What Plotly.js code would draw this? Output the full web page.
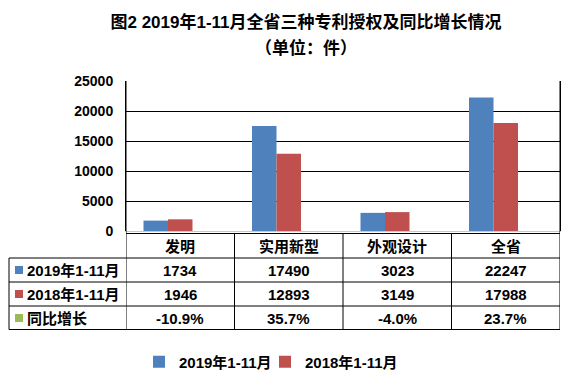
<!DOCTYPE html>
<html>
<head>
<meta charset="utf-8">
<script src="https://cdn.plot.ly/plotly-3.0.1.min.js"></script>
<style>html,body{margin:0;padding:0;background:#fff}#chart{width:588px;height:384px}</style>
</head>
<body>
<div id="chart"></div>
<script>
// ---- data ----
const categories = ["发明", "实用新型", "外观设计", "全省"];
const seriesNames = ["2019年1-11月", "2018年1-11月", "同比增长"];
const values2019 = [1734, 17490, 3023, 22247];
const values2018 = [1946, 12893, 3149, 17988];
const growth = [-0.109, 0.357, -0.040, 0.237];
const titleLine1 = "图2 2019年1-11月全省三种专利授权及同比增长情况";
const titleLine2 = "（单位：件）";
const yTicks = [0, 5000, 10000, 15000, 20000, 25000];

// ---- style ----
const colors = ["#4F81BD", "#C0504D", "#9BBB59"];
const FONT = "Liberation Sans, Arial, 'Noto Sans CJK SC', sans-serif";
const W = 588, H = 384;
const L = 126, R = 560, T = 81, B = 231;
const py = p => (B - p) / (B - T);       // pixel y -> paper y
const px = p => (p - L) / (R - L);       // pixel x -> paper x

const traces = [
  {type: "bar", name: seriesNames[0], x: categories, y: values2019, marker: {color: colors[0]}, hoverinfo: "skip", legend: "legend"},
  {type: "bar", name: seriesNames[1], x: categories, y: values2018, marker: {color: colors[1]}, hoverinfo: "skip", legend: "legend2"},
  {type: "bar", name: seriesNames[2], x: categories, y: growth, marker: {color: colors[2]}, hoverinfo: "skip", showlegend: false}
];

const rowBounds = [233.5, 258, 282, 306, 329.5];
const rowCenters = [246, 270, 294, 318];
const shapes = [];
const annotations = [];
const black = {color: "#000", width: 1};

// table horizontal lines
shapes.push({type: "line", xref: "paper", yref: "paper", x0: 0, x1: 1, y0: py(rowBounds[0]), y1: py(rowBounds[0]), line: black});
for (let i = 1; i < rowBounds.length; i++) {
  shapes.push({type: "line", xref: "paper", yref: "paper", x0: px(9), x1: 1, y0: py(rowBounds[i]), y1: py(rowBounds[i]), line: black});
}
// table vertical lines at category boundaries (data coords)
for (let k = 0; k <= categories.length; k++) {
  const xv = k - 0.5;
  const top = (k === 0 || k === categories.length) ? T : rowBounds[0];
  shapes.push({type: "line", xref: "x", yref: "paper", x0: xv, x1: xv, y0: py(top), y1: py(rowBounds[4]), line: black});
}
// left column outer edge
shapes.push({type: "line", xref: "paper", yref: "paper", x0: px(9), x1: px(9), y0: py(rowBounds[1]), y1: py(rowBounds[4]), line: black});

const tfont = {family: FONT, size: 15, color: "#000", weight: "bold"};
// header
categories.forEach((c, i) => {
  annotations.push({xref: "x", yref: "paper", x: i, y: py(rowCenters[0]), text: c, showarrow: false, font: tfont, xanchor: "center", yanchor: "middle"});
});
// rows
const fmtPct = v => (v * 100).toFixed(1) + "%";
const rows = [values2019.map(String), values2018.map(String), growth.map(fmtPct)];
rows.forEach((r, ri) => {
  const yc = py(rowCenters[ri + 1]);
  shapes.push({type: "rect", xref: "paper", yref: "paper", x0: px(15), x1: px(23), y0: yc - 4 / 150, y1: yc + 4 / 150, fillcolor: colors[ri], line: {width: 0}});
  annotations.push({xref: "paper", yref: "paper", x: px(25), y: yc, text: seriesNames[ri], showarrow: false, font: tfont, xanchor: "left", yanchor: "middle"});
  r.forEach((t, ci) => {
    annotations.push({xref: "x", yref: "paper", x: ci, y: yc, text: t, showarrow: false, font: tfont, xanchor: "center", yanchor: "middle"});
  });
});
// title second line
annotations.push({xref: "paper", yref: "paper", x: px(306), y: py(48), text: titleLine2, showarrow: false,
  font: {family: FONT, size: 17, color: "#000", weight: "bold"}, xanchor: "center", yanchor: "middle"});

const legendBase = {orientation: "h", xref: "paper", yref: "paper", xanchor: "left", y: py(362), yanchor: "middle",
  font: {family: FONT, size: 15, color: "#000", weight: "bold"}, bgcolor: "rgba(0,0,0,0)", borderwidth: 0};

const layout = {
  width: W, height: H,
  margin: {l: L, r: W - R, t: T, b: H - B, pad: 0, autoexpand: false},
  paper_bgcolor: "#fff", plot_bgcolor: "#fff",
  font: {family: FONT, color: "#000"},
  title: {text: titleLine1, xref: "container", x: 306 / W, xanchor: "center", yref: "container", y: 1 - 22 / H, yanchor: "middle",
          font: {family: FONT, size: 17, color: "#000", weight: "bold"}},
  barmode: "group", bargap: 0.3226, bargroupgap: 0,
  xaxis: {type: "category", range: [-0.5, categories.length - 0.5], showticklabels: false, ticks: "",
          showgrid: false, showline: true, linecolor: "#c8c8c8", linewidth: 1, zeroline: false, fixedrange: true},
  yaxis: {range: [0, 25000], tickvals: yTicks, ticktext: yTicks.map(String), ticks: "", ticklabelstandoff: 9,
          showgrid: true, gridcolor: "#000", gridwidth: 1, zeroline: false,
          showline: true, linecolor: "#000", linewidth: 1, mirror: true,
          tickfont: {family: FONT, size: 14, color: "#000", weight: "bold"}, fixedrange: true},
  showlegend: true,
  legend: Object.assign({}, legendBase, {x: px(139)}),
  legend2: Object.assign({}, legendBase, {x: px(265)}),
  shapes: shapes,
  annotations: annotations
};

Plotly.newPlot("chart", traces, layout, {staticPlot: true, displayModeBar: false});
</script>
</body>
</html>
